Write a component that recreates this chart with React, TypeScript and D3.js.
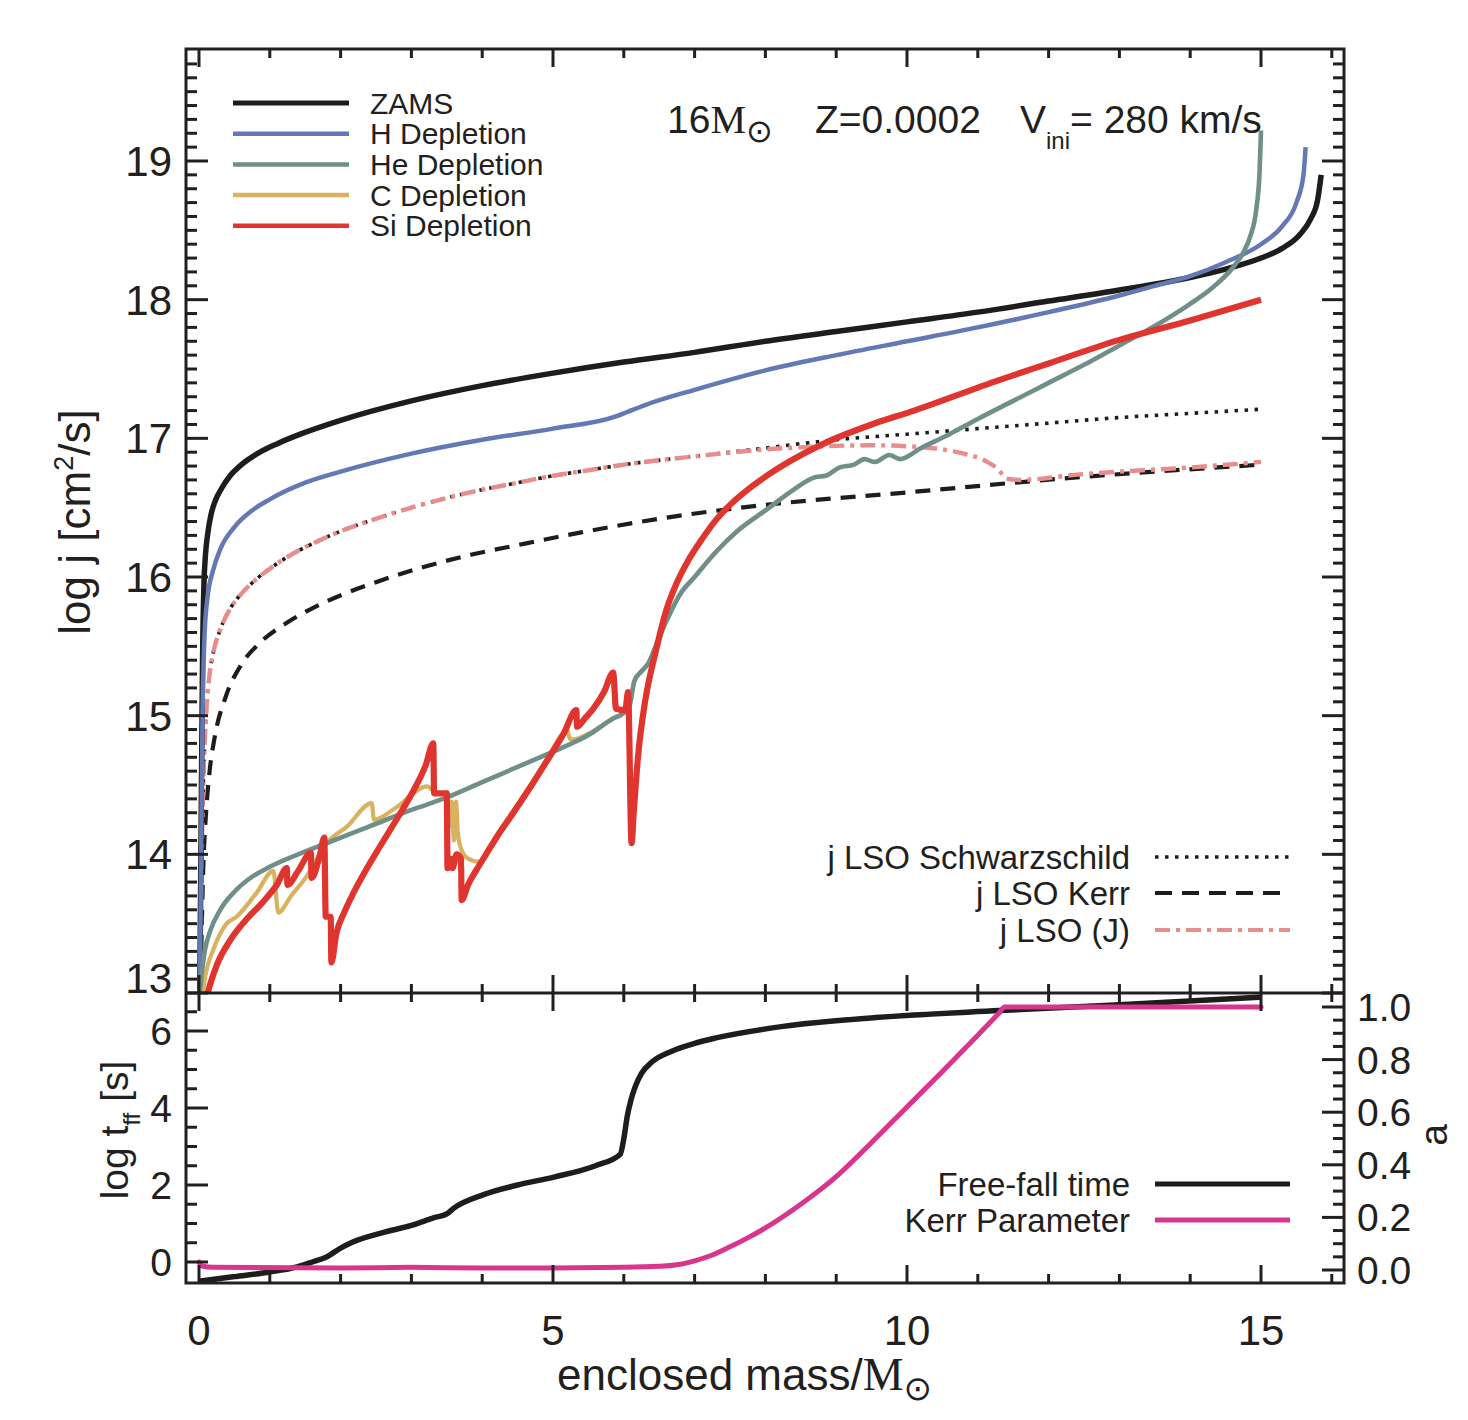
import React from 'react';
import * as d3 from 'd3';

type P = [number, number];

// ---------- top panel: log j [cm^2/s] vs enclosed mass ----------
const ZAMS: P[] = [[0.01,12.95],[0.03,14.2],[0.05,15.4],[0.07,15.95],[0.09,16.15],[0.12,16.3],[0.17,16.45],[0.23,16.55],[0.32,16.64],[0.44,16.73],[0.6,16.81],[0.86,16.9],[1.1,16.96],[1.43,17.03],[2,17.13],[3,17.27],[4,17.38],[5,17.47],[6,17.55],[7,17.62],[8,17.7],[9,17.77],[10,17.84],[11,17.91],[12,17.99],[13,18.07],[14,18.16],[14.5,18.22],[15,18.3],[15.3,18.37],[15.55,18.47],[15.7,18.58],[15.8,18.72],[15.85,18.9]];

const H_DEP: P[] = [[0.01,12.95],[0.03,14.0],[0.05,15.0],[0.08,15.6],[0.12,15.85],[0.2,16.05],[0.3,16.2],[0.5,16.36],[0.75,16.48],[1,16.56],[1.5,16.68],[2,16.76],[3,16.89],[4,16.99],[5,17.07],[5.9,17.16],[6.05,17.19],[6.3,17.24],[7,17.35],[8,17.49],[9,17.6],[10,17.7],[11,17.8],[12,17.91],[13,18.03],[13.5,18.1],[14,18.17],[14.5,18.27],[15,18.4],[15.3,18.53],[15.5,18.7],[15.6,18.9],[15.63,19.1]];

const HE_DEP: P[] = [[0.0,12.95],[0.03,13.1],[0.08,13.3],[0.16,13.45],[0.3,13.6],[0.5,13.73],[0.7,13.82],[1.0,13.91],[1.4,14.0],[1.8,14.08],[2.4,14.2],[3,14.32],[3.5,14.41],[4,14.52],[4.5,14.63],[5,14.74],[5.5,14.86],[5.85,14.98],[6.0,15.02],[6.08,15.07],[6.15,15.25],[6.25,15.32],[6.35,15.38],[6.45,15.5],[6.6,15.68],[6.8,15.88],[7,16.0],[7.3,16.18],[7.6,16.33],[8,16.48],[8.4,16.63],[8.7,16.72],[8.85,16.73],[9.05,16.79],[9.25,16.81],[9.4,16.85],[9.55,16.83],[9.75,16.88],[9.9,16.85],[10.2,16.93],[10.6,17.03],[11,17.14],[11.5,17.27],[12,17.4],[12.5,17.53],[13,17.67],[13.5,17.81],[14,17.97],[14.3,18.08],[14.6,18.23],[14.75,18.34],[14.85,18.46],[14.93,18.64],[14.98,18.92],[15.0,19.22]];

const C_DEP: P[] = [[0.04,12.95],[0.1,13.15],[0.2,13.31],[0.39,13.5],[0.53,13.55],[0.81,13.72],[1.05,13.88],[1.12,13.58],[1.3,13.7],[1.52,13.84],[1.8,14.08],[2.09,14.2],[2.44,14.37],[2.47,14.25],[2.79,14.34],[3.22,14.49],[3.36,14.44],[3.5,14.44],[3.53,14.2],[3.57,14.38],[3.6,14.1],[3.63,14.38],[3.66,14.13],[3.71,14.03],[3.8,13.97],[3.97,13.945],[4.2,14.135],[4.44,14.315],[4.7,14.515],[4.91,14.685],[5.15,14.88],[5.2,14.9],[5.24,14.83],[5.3,14.83],[5.5,14.87],[5.85,14.98],[6.0,15.02],[6.08,15.07],[6.15,15.25],[6.25,15.32],[6.35,15.38],[6.45,15.5],[6.6,15.68],[6.8,15.88],[7,16.0],[7.3,16.18],[7.6,16.33],[8,16.48],[8.4,16.63]];

const SI_DEP: P[] = [[0.1,12.95],[0.15,13.05],[0.25,13.2],[0.44,13.38],[0.65,13.52],[0.91,13.66],[1.1,13.78],[1.24,13.9],[1.25,13.78],[1.4,13.88],[1.58,14.01],[1.59,13.83],[1.7,13.98],[1.77,14.12],[1.79,13.55],[1.86,13.55],[1.87,13.22],[1.94,13.43],[2.05,13.58],[2.18,13.72],[2.35,13.88],[2.56,14.06],[2.8,14.26],[3.03,14.46],[3.2,14.64],[3.31,14.8],[3.32,14.44],[3.5,14.44],[3.51,13.9],[3.55,13.97],[3.58,13.9],[3.64,14.0],[3.7,13.97],[3.71,13.67],[3.8,13.78],[3.97,13.93],[4.2,14.12],[4.44,14.3],[4.7,14.5],[4.91,14.67],[5.15,14.87],[5.33,15.04],[5.34,14.92],[5.45,14.98],[5.57,15.05],[5.72,15.17],[5.85,15.31],[5.89,15.05],[6.02,15.04],[6.06,15.17],[6.11,14.08],[6.14,14.3],[6.2,14.7],[6.3,15.1],[6.45,15.46],[6.6,15.76],[6.75,15.96],[6.9,16.11],[7.1,16.27],[7.3,16.41],[7.5,16.52],[7.8,16.65],[8.2,16.79],[8.9,16.98],[9.5,17.1],[10.1,17.2],[11.3,17.42],[12,17.54],[13,17.71],[14,17.85],[15,18.0]];

const LSO_SCHW: P[] = [[0.02,13.0],[0.04,14.0],[0.06,14.5],[0.1,15.0],[0.15,15.3],[0.2,15.45],[0.3,15.62],[0.45,15.78],[0.6,15.88],[0.8,15.98],[1.0,16.06],[1.3,16.16],[1.6,16.24],[2,16.33],[2.5,16.42],[3,16.5],[3.5,16.57],[4,16.63],[4.5,16.68],[5,16.73],[5.5,16.77],[6,16.81],[7,16.87],[8,16.93],[9,16.99],[10,17.03],[11,17.07],[12,17.11],[13,17.15],[14,17.18],[15,17.21]];

const LSO_KERR: P[] = [[0.02,12.95],[0.04,13.5],[0.06,13.9],[0.1,14.3],[0.15,14.6],[0.22,14.84],[0.38,15.14],[0.6,15.37],[0.87,15.53],[1.24,15.67],[1.62,15.78],[2.06,15.88],[2.54,15.97],[3.09,16.06],[3.84,16.16],[4.5,16.23],[5.38,16.32],[6.5,16.42],[8,16.52],[10,16.61],[12.44,16.72],[15,16.81]];

const LSO_J: P[] = [[0.02,13.0],[0.04,14.0],[0.06,14.5],[0.1,15.0],[0.15,15.3],[0.2,15.45],[0.3,15.62],[0.45,15.78],[0.6,15.88],[0.8,15.98],[1.0,16.06],[1.3,16.16],[1.6,16.24],[2,16.33],[2.5,16.42],[3,16.5],[3.5,16.57],[4,16.63],[4.5,16.68],[5,16.73],[5.5,16.77],[6,16.81],[7,16.87],[8,16.92],[8.7,16.94],[9.5,16.95],[10.1,16.94],[10.5,16.92],[10.8,16.89],[11.1,16.84],[11.3,16.77],[11.4,16.71],[11.6,16.7],[12.44,16.74],[13,16.76],[14,16.79],[15,16.83]];

// ---------- bottom panel ----------
const FREE_FALL: P[] = [[0,-0.5],[0.5,-0.38],[1.0,-0.26],[1.4,-0.12],[1.6,0.0],[1.8,0.13],[2.0,0.36],[2.15,0.5],[2.57,0.75],[3.0,0.95],[3.32,1.15],[3.5,1.25],[3.6,1.4],[4.02,1.75],[4.5,2.0],[5.0,2.2],[5.6,2.5],[5.95,2.8],[6.0,3.2],[6.05,3.8],[6.1,4.2],[6.16,4.55],[6.25,4.9],[6.4,5.2],[6.67,5.47],[7.0,5.68],[7.3,5.82],[8.25,6.12],[9.56,6.35],[11.3,6.53],[13,6.68],[15,6.88]];

const KERR_A: P[] = [[0.0,0.03],[0.04,0.015],[0.2,0.01],[2,0.008],[3,0.01],[4,0.008],[5,0.008],[6,0.01],[6.5,0.014],[6.8,0.022],[7.0,0.035],[7.25,0.057],[7.5,0.088],[7.75,0.122],[8,0.16],[8.5,0.25],[9,0.355],[9.5,0.485],[10,0.62],[10.5,0.755],[11,0.893],[11.3,0.977],[11.38,1.0],[13,1.0],[15,1.0]];

const X_TICKS = [0, 5, 10, 15];
const J_TICKS = [13, 14, 15, 16, 17, 18, 19];
const T_TICKS = [0, 2, 4, 6];
const A_TICKS = [0, 0.2, 0.4, 0.6, 0.8, 1.0];

const TOP_LEGEND = ['ZAMS', 'H Depletion', 'He Depletion', 'C Depletion', 'Si Depletion'];
const LSO_LEGEND = ['j LSO Schwarzschild', 'j LSO Kerr', 'j LSO (J)'];
const BOT_LEGEND = ['Free-fall time', 'Kerr Parameter'];

const C_BLACK = '#1d1d1b';
const C_BLUE = '#6478b4';
const C_GREEN = '#6f8f88';
const C_YELLOW = '#d9b25f';
const C_RED = '#e0342f';
const C_PINK = '#e98c8c';
const C_MAGENTA = '#d8358e';
const INK = '#231f20';

const FONT = "'Liberation Sans', Arial, Helvetica, sans-serif";
const SERIF = "'Liberation Serif', 'Times New Roman', serif";

const FL = 186, FR = 1344, FT = 49, FM = 993, FB = 1283;

export default function App() {
  const x = d3.scaleLinear().domain([0, 15]).range([199, 1261]);
  const yJ = d3.scaleLinear().domain([13, 19]).range([993, 161]);
  const yT = d3.scaleLinear().domain([0, 6]).range([1262, 1031]);
  const yA = d3.scaleLinear().domain([0, 1]).range([1270, 1007]);

  const lJ = d3.line<P>().x(d => x(d[0])).y(d => yJ(d[1])).curve(d3.curveMonotoneX);
  const lT = d3.line<P>().x(d => x(d[0])).y(d => yT(d[1])).curve(d3.curveMonotoneX);
  const lA = d3.line<P>().x(d => x(d[0])).y(d => yA(d[1])).curve(d3.curveMonotoneX);

  const ticks: JSX.Element[] = [];
  d3.range(0, 17).forEach(i => {
    const px = x(i);
    const major = i % 5 === 0;
    const L = major ? 18 : 9;
    ticks.push(<line key={'xt' + i} x1={px} x2={px} y1={FT} y2={FT + L} />);
    ticks.push(<line key={'xm1' + i} x1={px} x2={px} y1={FM} y2={FM - L} />);
    ticks.push(<line key={'xm2' + i} x1={px} x2={px} y1={FM} y2={FM + L} />);
    ticks.push(<line key={'xb' + i} x1={px} x2={px} y1={FB} y2={FB - L} />);
  });
  d3.range(130, 199).forEach(i => {
    const py = yJ(i / 10);
    if (py < FT + 2) return;
    const L = i % 10 === 0 ? 22 : 11;
    ticks.push(<line key={'yl' + i} x1={FL} x2={FL + L} y1={py} y2={py} />);
    ticks.push(<line key={'yr' + i} x1={FR} x2={FR - L} y1={py} y2={py} />);
  });
  d3.range(-1, 14).forEach(i => {
    const py = yT(i / 2);
    if (py < FM + 3 || py > FB - 2) return;
    const L = i % 4 === 0 ? 22 : 11;
    ticks.push(<line key={'tl' + i} x1={FL} x2={FL + L} y1={py} y2={py} />);
  });
  d3.range(0, 21).forEach(i => {
    const py = yA(i / 20);
    if (py < FM + 3 || py > FB - 2) return;
    const L = i % 4 === 0 ? 22 : 11;
    ticks.push(<line key={'ar' + i} x1={FR} x2={FR - L} y1={py} y2={py} />);
  });

  return (
    <svg width={1468} height={1420} style={{ position: 'absolute', left: 0, top: 0, background: '#fff' }} fontFamily={FONT}>
      <defs>
        <clipPath id="clipTop"><rect x={FL} y={FT} width={FR - FL} height={FM - FT} /></clipPath>
        <clipPath id="clipBot"><rect x={FL} y={FM} width={FR - FL} height={FB - FM} /></clipPath>
      </defs>
      <rect x={0} y={0} width={1468} height={1420} fill="#fff" />

      <g clipPath="url(#clipTop)" fill="none" strokeLinejoin="round">
        <path d={lJ(LSO_KERR) || ''} stroke={C_BLACK} strokeWidth={4.2} strokeDasharray="15,10" />
        <path d={lJ(LSO_SCHW) || ''} stroke={C_BLACK} strokeWidth={3.6} strokeDasharray="3.5,6.5" />
        <path d={lJ(LSO_J) || ''} stroke={C_PINK} strokeWidth={4.4} strokeDasharray="15,6,4,6" />
        <path d={lJ(ZAMS) || ''} stroke={C_BLACK} strokeWidth={5.5} />
        <path d={lJ(H_DEP) || ''} stroke={C_BLUE} strokeWidth={4.5} />
        <path d={lJ(C_DEP) || ''} stroke={C_YELLOW} strokeWidth={4.2} />
        <path d={lJ(HE_DEP) || ''} stroke={C_GREEN} strokeWidth={4.6} />
        <path d={lJ(SI_DEP) || ''} stroke={C_RED} strokeWidth={6.2} />
      </g>

      <g clipPath="url(#clipBot)" fill="none">
        <path d={lT(FREE_FALL) || ''} stroke={C_BLACK} strokeWidth={5.5} />
        <path d={lA(KERR_A) || ''} stroke={C_MAGENTA} strokeWidth={5} strokeLinecap="round" />
      </g>

      <g stroke={INK} strokeWidth={3} fill="none">
        <rect x={FL} y={FT} width={FR - FL} height={FB - FT} />
        <line x1={FL} x2={FR} y1={FM} y2={FM} />
        {ticks}
      </g>

      <g fill={INK} fontSize={42}>
        {X_TICKS.map(v => (
          <text key={'xl' + v} x={x(v)} y={1345} textAnchor="middle">{v}</text>
        ))}
        {J_TICKS.map(v => (
          <text key={'jl' + v} x={172} y={Math.min(yJ(v), 978) + 15} textAnchor="end">{v}</text>
        ))}
      </g>
      <g fill={INK} fontSize={39}>
        {T_TICKS.map(v => (
          <text key={'tl' + v} x={172} y={yT(v) + 14} textAnchor="end">{v}</text>
        ))}
        {A_TICKS.map(v => (
          <text key={'al' + v} x={1357} y={yA(v) + 14} textAnchor="start">{v.toFixed(1)}</text>
        ))}
      </g>

      <g fill={INK} fontSize={44}>
        <text x={557} y={1390} textAnchor="start">
          enclosed mass/<tspan fontFamily={SERIF} fontSize={46}>M</tspan>
          <tspan fontFamily="'DejaVu Sans'" fontSize={34} dy={10}>⊙</tspan>
        </text>
        <text transform="translate(90,522) rotate(-90)" textAnchor="middle">
          log j [cm<tspan fontSize={27} dy={-17}>2</tspan><tspan dy={17}>/s]</tspan>
        </text>
        <text transform="translate(128,1130) rotate(-90)" textAnchor="middle" fontSize={39}>
          log t<tspan fontSize={24} dy={12}>ff</tspan><tspan dy={-12}> [s]</tspan>
        </text>
        <text transform="translate(1447,1135) rotate(-90)" textAnchor="middle" fontSize={39}>a</text>
      </g>

      <g fill={INK} fontSize={39}>
        <text x={667} y={133}>16<tspan fontFamily={SERIF} fontSize={40}>M</tspan><tspan fontFamily="'DejaVu Sans'" fontSize={32} dy={9}>⊙</tspan></text>
        <text x={815} y={133}>Z=0.0002</text>
        <text x={1020} y={133}>V<tspan fontSize={24} dy={16}>ini</tspan><tspan dy={-16}>= 280 km/s</tspan></text>
      </g>

      <g fontSize={30} fill={INK}>
        {TOP_LEGEND.map((name, i) => {
          const cy = 103 + i * 30.7;
          const col = [C_BLACK, C_BLUE, C_GREEN, C_YELLOW, C_RED][i];
          return (
            <g key={name}>
              <line x1={233} x2={349} y1={cy} y2={cy} stroke={col} strokeWidth={i === 0 ? 5 : 4.5} />
              <text x={370} y={cy + 10.5}>{name}</text>
            </g>
          );
        })}
      </g>

      <g fontSize={33} fill={INK}>
        {LSO_LEGEND.map((name, i) => {
          const cy = [857, 893, 930][i];
          const st = [
            { stroke: C_BLACK, dash: '3.5,6.5', w: 3.6 },
            { stroke: C_BLACK, dash: '17,10', w: 4.2 },
            { stroke: C_PINK, dash: '15,6,4,6', w: 4.2 },
          ][i];
          return (
            <g key={name}>
              <text x={1130} y={cy + 11.5} textAnchor="end">{name}</text>
              <line x1={1155} x2={1290} y1={cy} y2={cy} stroke={st.stroke} strokeWidth={st.w} strokeDasharray={st.dash} />
            </g>
          );
        })}
      </g>

      <g fontSize={33} fill={INK}>
        {BOT_LEGEND.map((name, i) => {
          const cy = [1184, 1220][i];
          const col = [C_BLACK, C_MAGENTA][i];
          return (
            <g key={name}>
              <text x={1130} y={cy + 11.5} textAnchor="end">{name}</text>
              <line x1={1155} x2={1290} y1={cy} y2={cy} stroke={col} strokeWidth={5} />
            </g>
          );
        })}
      </g>
    </svg>
  );
}
